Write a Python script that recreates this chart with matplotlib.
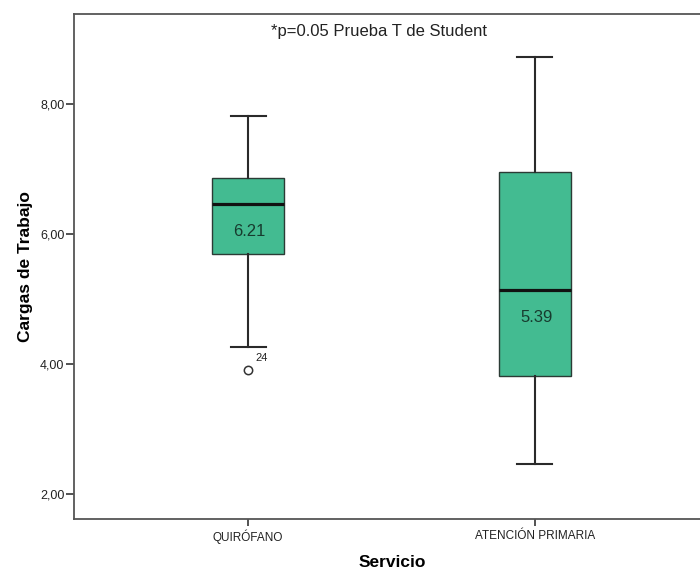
import matplotlib
matplotlib.use("Agg")
import matplotlib.pyplot as plt

# Box plot summary
servicios = ["QUIRÓFANO", "ATENCIÓN PRIMARIA"]
whisker_low = [4.27, 2.47]
q1 = [5.69, 3.82]
median = [6.46, 5.14]
q3 = [6.86, 6.95]
whisker_high = [7.82, 8.72]
outliers = [[3.91], []]
outlier_ids = [["24"], []]
means = [6.21, 5.39]

y_ticks = [2.0, 4.0, 6.0, 8.0]
y_tick_labels = ["2,00", "4,00", "6,00", "8,00"]

plt.rcParams['font.family'] = ['Liberation Sans', 'DejaVu Sans']

fig = plt.figure(figsize=(7, 5.69), dpi=100)
ax = fig.add_axes([0.1057, 0.0884, 0.907, 0.887])

stats = []
for i, name in enumerate(servicios):
    stats.append({
        'label': name,
        'whislo': whisker_low[i],
        'q1': q1[i],
        'med': median[i],
        'q3': q3[i],
        'whishi': whisker_high[i],
        'fliers': outliers[i],
    })

positions = [1, 2]
ax.bxp(stats, positions=positions, widths=0.25, capwidths=0.122,
       patch_artist=True, showfliers=True,
       boxprops=dict(facecolor='#43bb91', edgecolor='#2b3b35', linewidth=1.0),
       medianprops=dict(color='#111111', linewidth=2.3),
       whiskerprops=dict(color='#2a2a2a', linewidth=1.5),
       capprops=dict(color='#2a2a2a', linewidth=1.5),
       flierprops=dict(marker='o', markersize=6, markerfacecolor='white',
                       markeredgecolor='#333333', markeredgewidth=1.1))

# mean values written inside each box, just under the median line
for pos, med, m in zip(positions, median, means):
    ax.annotate(f"{m:.2f}", (pos, med), xytext=(1, -20), textcoords='offset points',
                ha='center', va='center', fontsize=12, color='#173b2e')

# outlier case numbers
for pos, vals, ids in zip(positions, outliers, outlier_ids):
    for v, lab in zip(vals, ids):
        ax.annotate(lab, (pos, v), xytext=(5, 5), textcoords='offset points',
                    fontsize=8, color='#222222', ha='left', va='bottom')

ax.text(0.481, 0.966, "*p=0.05 Prueba T de Student", transform=ax.transAxes,
        ha='center', va='center', fontsize=12, color='#222222')

ax.set_xlim(0.392, 2.608)
ax.set_ylim(1.625, 9.383)
ax.set_yticks(y_ticks)
ax.set_yticklabels(y_tick_labels)
ax.set_xticks(positions)
ax.set_xticklabels(servicios)

ax.tick_params(axis='y', direction='out', length=6, width=1.3, color='#444444',
               labelsize=9, pad=1, labelcolor='#222222')
ax.tick_params(axis='x', direction='out', length=5, width=1.3, color='#444444',
               labelsize=8.5, pad=3, labelcolor='#222222')

for side in ['left', 'bottom', 'top', 'right']:
    ax.spines[side].set_color('#555555')
    ax.spines[side].set_linewidth(1.3)

ax.set_ylabel("Cargas de Trabajo", fontsize=12.5, fontweight='bold', va='center')
ax.yaxis.set_label_coords(-0.077, 0.5)
ax.set_xlabel("Servicio", fontsize=12.5, fontweight='bold', va='center')
ax.xaxis.set_label_coords(0.502, -0.087)

fig.savefig("out.png", dpi=100)
